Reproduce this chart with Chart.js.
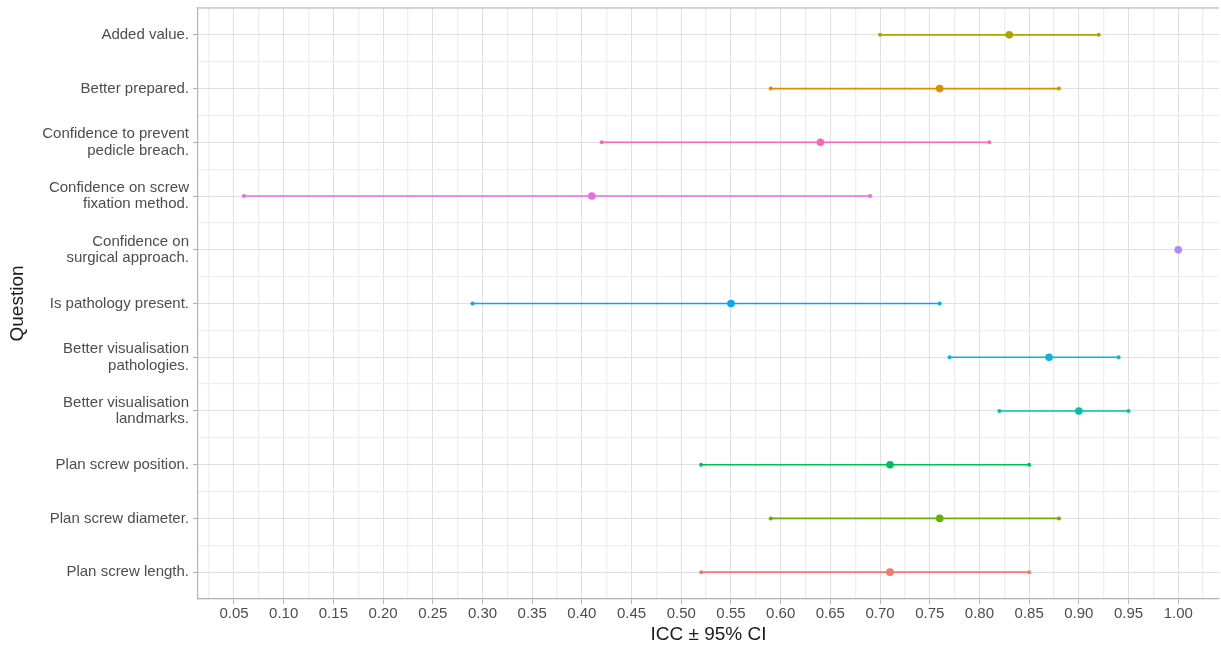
<!DOCTYPE html>
<html>
<head>
<meta charset="utf-8">
<script src="https://cdn.jsdelivr.net/npm/chart.js@4/dist/chart.umd.min.js"></script>
<style>
  body { margin: 0; background: #fff; }
</style>
</head>
<body>
<canvas id="icc_chart" width="1221" height="649"></canvas>
<script>
// questions from top to bottom
var questions = [
    "Added value.",
    "Better prepared.",
    ["Confidence to prevent", "pedicle breach."],
    ["Confidence on screw", "fixation method."],
    ["Confidence on", "surgical approach."],
    "Is pathology present.",
    ["Better visualisation", "pathologies."],
    ["Better visualisation", "landmarks."],
    "Plan screw position.",
    "Plan screw diameter.",
    "Plan screw length."
];
var iccLower = [0.70, 0.59, 0.42, 0.06, 1.00, 0.29, 0.77, 0.82, 0.52, 0.59, 0.52];
var iccValue = [0.83, 0.76, 0.64, 0.41, 1.00, 0.55, 0.87, 0.90, 0.71, 0.76, 0.71];
var iccUpper = [0.92, 0.88, 0.81, 0.69, 1.00, 0.76, 0.94, 0.95, 0.85, 0.88, 0.85];
var colors = ['#AEA200', '#DB8E00', '#FF63B6', '#EF67EB', '#B385FF', '#00A6FF',
              '#00BADE', '#00C1A7', '#00BD5C', '#64B200', '#F8766D'];

var FONT = 'Liberation Sans, Arial, sans-serif';

function isMajor(v, step) {
    var r = Math.round(v / step);
    return Math.abs(v - r * step) < 1e-6;
}

var datasets = questions.map(function (q, i) {
    return {
        label: Array.isArray(q) ? q.join(' ') : q,
        data: [
            { x: iccLower[i], y: i },
            { x: iccValue[i], y: i },
            { x: iccUpper[i], y: i }
        ],
        showLine: true,
        borderColor: colors[i],
        backgroundColor: colors[i],
        borderWidth: 1.6,
        pointRadius: [2, 3.8, 2],
        pointBorderWidth: 0,
        pointHoverRadius: [2, 3.8, 2]
    };
});

// top edge of the panel border
var panelTop = {
    id: 'panelTop',
    afterDraw: function (chart) {
        var a = chart.chartArea, ctx = chart.ctx;
        ctx.save();
        ctx.strokeStyle = '#b3b3b3';
        ctx.lineWidth = 1.2;
        ctx.beginPath();
        ctx.moveTo(a.left, a.top);
        ctx.lineTo(a.right, a.top);
        ctx.stroke();
        ctx.restore();
    }
};

new Chart(document.getElementById("icc_chart").getContext("2d"), {
    type: 'scatter',
    data: { datasets: datasets },
    plugins: [panelTop],
    options: {
        responsive: false,
        animation: false,
        layout: { padding: { top: 8, right: 0, bottom: 0, left: 0 } },
        plugins: {
            legend: { display: false },
            tooltip: { enabled: false }
        },
        scales: {
            x: {
                type: 'linear',
                min: 0.0138,
                max: 1.041,
                afterBuildTicks: function (scale) {
                    var t = [];
                    for (var k = 1; k <= 41; k++) t.push({ value: k * 0.025 });
                    scale.ticks = t;
                },
                afterFit: function (scale) {
                    scale.height = 50;
                    scale.paddingLeft = 0;
                    scale.paddingRight = 0;
                },
                ticks: {
                    autoSkip: false,
                    maxRotation: 0,
                    padding: 1,
                    color: '#4d4d4d',
                    font: { family: FONT, size: 15 },
                    callback: function (v) {
                        return isMajor(v, 0.05) ? v.toFixed(2) : '';
                    }
                },
                grid: {
                    tickLength: 5,
                    lineWidth: function (c) { return isMajor(c.tick.value, 0.05) ? 1 : 1.3; },
                    color: function (c) { return isMajor(c.tick.value, 0.05) ? '#e0e0e0' : '#eeeeee'; },
                    tickColor: function (c) { return isMajor(c.tick.value, 0.05) ? '#b3b3b3' : 'rgba(0,0,0,0)'; }
                },
                border: { display: true, color: '#b3b3b3', width: 1.2 },
                title: {
                    display: true,
                    text: 'ICC ± 95% CI',
                    color: '#1a1a1a',
                    font: { family: FONT, size: 19 },
                    padding: { top: 0, bottom: 3 }
                }
            },
            y: {
                type: 'linear',
                reverse: true,
                min: -0.5,
                max: 10.5,
                afterBuildTicks: function (scale) {
                    var t = [];
                    for (var k = -1; k <= 21; k++) t.push({ value: k * 0.5 });
                    scale.ticks = t;
                },
                afterFit: function (scale) {
                    scale.width = 198;
                    scale.paddingTop = 0;
                    scale.paddingBottom = 0;
                },
                ticks: {
                    autoSkip: false,
                    padding: 4,
                    color: '#4d4d4d',
                    font: { family: FONT, size: 15, lineHeight: 1.1 },
                    callback: function (v) {
                        return isMajor(v, 1) ? questions[Math.round(v)] : '';
                    }
                },
                grid: {
                    tickLength: 5,
                    lineWidth: function (c) { return isMajor(c.tick.value, 1) ? 1 : 1.3; },
                    color: function (c) { return isMajor(c.tick.value, 1) ? '#e0e0e0' : '#eeeeee'; },
                    tickColor: function (c) { return isMajor(c.tick.value, 1) ? '#b3b3b3' : 'rgba(0,0,0,0)'; }
                },
                border: { display: true, color: '#b3b3b3', width: 1.2 },
                title: {
                    display: true,
                    text: 'Question',
                    color: '#1a1a1a',
                    font: { family: FONT, size: 19 },
                    padding: { top: 6, bottom: 0 }
                }
            }
        }
    }
});
</script>
</body>
</html>
